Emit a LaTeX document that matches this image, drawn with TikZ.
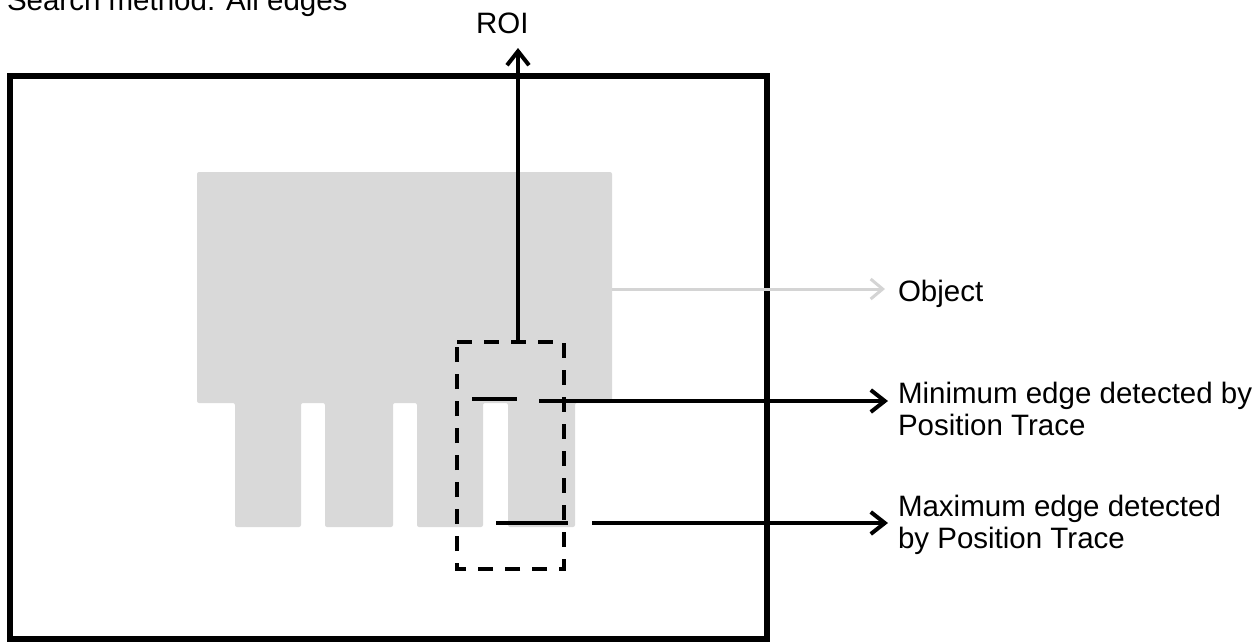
\documentclass[tikz,border=0pt]{standalone}
\usepackage{fontspec}
\setmainfont{Liberation Sans}
\usetikzlibrary{arrows.meta}
\definecolor{objgray}{HTML}{D9D9D9}
\definecolor{objarrow}{HTML}{D4D4D4}
\begin{document}
\begin{tikzpicture}[x=1pt,y=-1pt,
  lbl/.style={inner sep=0pt,outer sep=0pt,anchor=base west,align=left,
    font=\fontsize{29.5pt}{32pt}\selectfont},
  blackarrow/.style={line width=4pt,-{Straight Barb[length=14pt,width=22pt,line width=4pt]}},
  grayarrow/.style={line width=3pt,draw=objarrow,-{Straight Barb[length=12pt,width=20pt,line width=3pt]}},
  edgeseg/.style={line width=4pt},
  roibox/.style={line width=4pt,dash pattern=on 15pt off 12pt},
  frame/.style={line width=6pt}]
\useasboundingbox (0,0) rectangle (1259,641);
% frame
\draw[frame] (10,76) rectangle (767,639);
% object
\fill[objgray,rounded corners=2pt] (197,172) -- (612,172) -- (612,403) -- (575,403) -- (575,527) -- (508,527) -- (508,403) -- (483,403) -- (483,527) -- (417,527) -- (417,403) -- (393,403) -- (393,527) -- (325,527) -- (325,403) -- (301,403) -- (301,527) -- (235,527) -- (235,403) -- (197,403) -- cycle;
% coordinates
\coordinate (objR) at (612,289);
\coordinate (objTip) at (885,289);
\coordinate (roiTop) at (518,342);
\coordinate (roiTip) at (518,48);
\coordinate (minA) at (472,399);
\coordinate (minB) at (517,399);
\coordinate (minC) at (539,401);
\coordinate (minTip) at (888,401);
\coordinate (maxA) at (496,523);
\coordinate (maxB) at (568,523);
\coordinate (maxC) at (592,523);
\coordinate (maxTip) at (888,523);
% ROI box
\draw[roibox] (457,342) -- (564,342) -- (564,569) -- (457,569) -- cycle;
% texts (base anchor of a two-line node = baseline of its last line)
\node[lbl] (title) at (7,10) {Search method: All edges};
\node[lbl] (roi) at (476,33) {ROI};
\node[lbl] (obj) at (898,301) {Object};
\node[lbl] (minlbl) at (898,435) {Minimum edge detected by\\Position Trace};
\node[lbl] (maxlbl) at (898,548) {Maximum edge detected\\by Position Trace};
% connectors
\draw[grayarrow] (objR) -- (objTip);
\draw[blackarrow] (roiTop) -- (roiTip);
\draw[edgeseg] (minA) -- (minB);
\draw[blackarrow] (minC) -- (minTip);
\draw[edgeseg] (maxA) -- (maxB);
\draw[blackarrow] (maxC) -- (maxTip);
\end{tikzpicture}
\end{document}
